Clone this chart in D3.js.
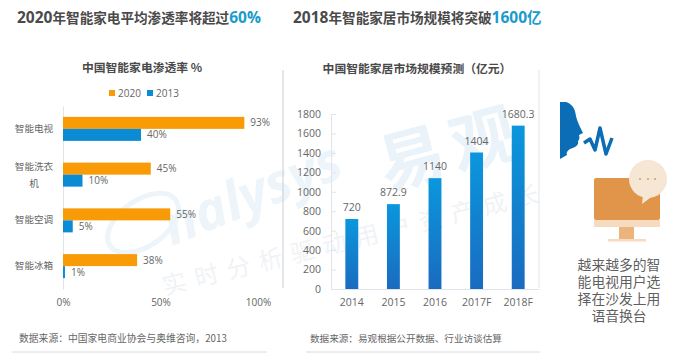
<!DOCTYPE html>
<html>
<head>
<meta charset="utf-8">
<script src="https://cdn.jsdelivr.net/npm/d3@7"></script>
<style>
html, body { margin: 0; padding: 0; background: #fff; }
svg { display: block; }
text { font-family: "Noto Sans CJK SC", "Noto Sans", sans-serif; }
.num { font-family: "Open Sans", "Noto Sans", sans-serif; }
.note { font-family: "Liberation Sans", "Noto Sans CJK SC", sans-serif; }
</style>
</head>
<body>
<div id="chart"></div>
<script>
////
// DATA
////
const appliances = ["智能电视", "智能洗衣机", "智能空调", "智能冰箱"];
const rate_2020 = [93, 45, 55, 38];
const rate_2013 = [40, 10, 5, 1];
const rate_ticks = [0, 50, 100];

const market_years = ["2014", "2015", "2016", "2017F", "2018F"];
const market_size = [720, 872.9, 1140, 1404, 1680.3];
const market_ticks = [0, 200, 400, 600, 800, 1000, 1200, 1400, 1600, 1800];

const orange = "#f99a07", blue = "#0b8bd4", highlight = "#1a9bc9";
const grey_text = "#666", dark_text = "#4a4a4a", axis_grey = "#dfe5ea";

const svg = d3.select("#chart").append("svg").attr("width", 679).attr("height", 356);

const defs = svg.append("defs");
const grad = defs.append("linearGradient").attr("id", "bar_grad")
    .attr("x1", 0).attr("y1", 0).attr("x2", 0).attr("y2", 1);
grad.append("stop").attr("offset", "0%").attr("stop-color", "#0a97dd");
grad.append("stop").attr("offset", "100%").attr("stop-color", "#1a6bbf");

////
// WATERMARK
////
const mark = svg.append("g");
mark.append("ellipse").attr("cx", 143).attr("cy", 223).attr("rx", 40).attr("ry", 23)
    .attr("transform", "rotate(-35 143 223)")
    .attr("fill", "none").attr("stroke", "#edf5fa").attr("stroke-width", 5);
mark.append("text").attr("transform", "translate(172,246) rotate(-22)")
    .attr("class", "num").attr("font-size", 54).attr("font-weight", 700)
    .attr("font-style", "italic").attr("fill", "#edf5fa").text("nalysys");
mark.append("text").attr("transform", "translate(386,190) rotate(-15)")
    .attr("font-size", 66).attr("font-weight", 700).attr("letter-spacing", 8).attr("fill", "#e9f3f9").text("易观");
mark.append("text").attr("transform", "translate(165,295) rotate(-14)")
    .attr("font-size", 24).attr("letter-spacing", 9).attr("fill", "#f0f3f6").text("实时分析驱动用户资产成长");

////
// HEADLINES
////
function headline(x, lead, middle) {
    const t = svg.append("text").attr("x", x).attr("y", 23)
        .attr("font-weight", 700).attr("fill", dark_text);
    t.append("tspan").attr("class", "num").attr("font-size", 15.5).text(lead);
    t.append("tspan").attr("font-size", 13.6).text(middle);
    return t;
}
const head_left = headline(17, "2020", "年智能家电平均渗透率将超过");
head_left.append("tspan").attr("class", "num").attr("font-size", 15.5).attr("fill", highlight).text("60%");
const head_right = headline(293, "2018", "年智能家居市场规模将突破");
head_right.append("tspan").attr("class", "num").attr("font-size", 15.5).attr("fill", highlight).text("1600");
head_right.append("tspan").attr("font-size", 14.5).attr("fill", highlight).text("亿");

svg.append("text").attr("x", 142).attr("y", 72).attr("text-anchor", "middle")
    .attr("font-size", 11.8).attr("font-weight", 700).attr("fill", dark_text).text("中国智能家电渗透率 %");
svg.append("text").attr("x", 417).attr("y", 73).attr("text-anchor", "middle")
    .attr("font-size", 11.8).attr("font-weight", 700).attr("fill", dark_text).text("中国智能家居市场规模预测（亿元）");

////
// LEFT CHART
////
const rate_x = d3.scaleLinear().domain([0, 100]).range([63, 258]);
const rate_y = d3.scaleBand().domain(appliances).range([106, 289]);
const rate_inner = d3.scaleBand().domain(["2020", "2013"])
    .range([rate_y.bandwidth() / 2 - 12, rate_y.bandwidth() / 2 + 12]);

// legend
const legend = svg.append("g");
[["2020", orange, 109], ["2013", blue, 147]].forEach(d => {
    legend.append("rect").attr("x", d[2]).attr("y", 90).attr("width", 6).attr("height", 6).attr("fill", d[1]);
    legend.append("text").attr("class", "num").attr("x", d[2] + 9).attr("y", 96.5)
        .attr("font-size", 10).attr("fill", grey_text).text(d[0]);
});

const rate_axis = svg.append("g").attr("transform", "translate(0,289)")
    .call(d3.axisBottom(rate_x).tickValues(rate_ticks).tickFormat(d => d + "%").tickSize(0).tickPadding(10));
rate_axis.select(".domain").remove();
rate_axis.selectAll("text").attr("class", "num").attr("font-size", 10).attr("fill", grey_text)
    .style("font-family", '"Open Sans", sans-serif');

const cat_axis = svg.append("g").attr("transform", "translate(63,0)")
    .call(d3.axisLeft(rate_y).tickSize(0).tickFormat(""));
cat_axis.select(".domain").attr("stroke", axis_grey);
cat_axis.selectAll(".tick").each(function (d) {
    // long names wrap after four characters, as in the original
    const lines = d.length > 4 ? [d.slice(0, 4), d.slice(4)] : [d];
    const label = d3.select(this).select("text").attr("x", -29).attr("text-anchor", "middle")
        .attr("font-size", 9.6).attr("fill", grey_text).attr("dy", null);
    lines.forEach((line, i) => {
        label.append("tspan").attr("x", -29)
            .attr("y", lines.length > 1 ? (i === 0 ? -5 : 12) : 3).text(line);
    });
});

const rate_rows = appliances.map((name, i) => ({ name, "2020": rate_2020[i], "2013": rate_2013[i] }));
[["2020", orange], ["2013", blue]].forEach(series => {
    const key = series[0];
    const row = svg.selectAll(".row_" + key).data(rate_rows).enter().append("g")
        .attr("class", "row_" + key)
        .attr("transform", d => `translate(0,${rate_y(d.name) + rate_inner(key)})`);
    row.append("rect").attr("x", rate_x(0)).attr("y", 0)
        .attr("width", d => rate_x(d[key]) - rate_x(0))
        .attr("height", rate_inner.bandwidth()).attr("fill", series[1]);
    row.append("text").attr("class", "num")
        .attr("x", d => rate_x(d[key]) + 6).attr("y", rate_inner.bandwidth() / 2 + 3.5)
        .attr("font-size", 10).attr("fill", grey_text).text(d => d[key] + "%");
});

////
// RIGHT CHART
////
const market_x = d3.scaleBand().domain(market_years).range([331, 539]).paddingInner(0.69).paddingOuter(0.345);
const market_y = d3.scaleLinear().domain([0, 1800]).range([289, 114]);

// panel edges
svg.append("line").attr("x1", 283).attr("x2", 283).attr("y1", 70).attr("y2", 288)
    .attr("stroke", "#c9ced3").attr("stroke-width", 1);
svg.append("line").attr("x1", 539).attr("x2", 539).attr("y1", 70).attr("y2", 288)
    .attr("stroke", "#e2e5e8").attr("stroke-width", 1);

const y_axis = svg.append("g").attr("transform", "translate(331,0)")
    .call(d3.axisLeft(market_y).tickValues(market_ticks).tickSize(-5).tickPadding(10).tickFormat(d3.format("d")));
y_axis.select(".domain").attr("stroke", axis_grey);
y_axis.selectAll(".tick line").attr("stroke", axis_grey);
y_axis.selectAll("text").attr("font-size", 10.5).attr("fill", grey_text)
    .style("font-family", '"Open Sans", sans-serif');

const x_axis = svg.append("g").attr("transform", "translate(0,289)")
    .call(d3.axisBottom(market_x).tickSize(0).tickPadding(10));
x_axis.select(".domain").attr("stroke", axis_grey);
x_axis.selectAll("text").attr("font-size", 10.5).attr("fill", grey_text)
    .style("font-family", '"Open Sans", sans-serif');

svg.selectAll(".market_bar").data(market_size).enter().append("rect")
    .attr("class", "market_bar")
    .attr("x", (d, i) => market_x(market_years[i]))
    .attr("y", d => market_y(d))
    .attr("width", market_x.bandwidth())
    .attr("height", d => market_y(0) - market_y(d))
    .attr("fill", "url(#bar_grad)");

svg.selectAll(".market_label").data(market_size).enter().append("text")
    .attr("class", "market_label num")
    .attr("x", (d, i) => market_x(market_years[i]) + market_x.bandwidth() / 2)
    .attr("y", d => market_y(d) - 8)
    .attr("text-anchor", "middle").attr("font-size", 10.5).attr("fill", grey_text).text(d => d);

////
// SOURCES
////
svg.append("text").attr("x", 19).attr("y", 342).attr("font-size", 9.8).attr("fill", grey_text)
    .text("数据来源：中国家电商业协会与奥维咨询，2013");
svg.append("text").attr("x", 310).attr("y", 342).attr("font-size", 9.6).attr("fill", grey_text)
    .text("数据来源：易观根据公开数据、行业访谈估算");
[[12, 267], [306, 540]].forEach(d => {
    svg.append("line").attr("x1", d[0]).attr("x2", d[1]).attr("y1", 352).attr("y2", 352)
        .attr("stroke", "#d9dcdf");
});

////
// ICONS
////
const icons = svg.append("g");
icons.append("path").attr("fill", "#0a6db5")
    .attr("d", "M560,102 L566,102 C572,104 575,108 576,116 C577,121 581,129 583,133 L579,135 C580,138 579,140 578,141 C579,145 576,147 570,149 C567,151 566,153 567,155 L560,159 Z");
icons.append("path").attr("fill", "none").attr("stroke", "#0a6db5").attr("stroke-width", 3.5).attr("stroke-linejoin", "round")
    .attr("d", "M584,143 L590,139 L595,150 L600,128 L606,154 L612,138");

icons.append("rect").attr("x", 594).attr("y", 178).attr("width", 66).attr("height", 42).attr("rx", 2).attr("fill", "#e0954a");
icons.append("rect").attr("x", 594).attr("y", 220).attr("width", 66).attr("height", 7).attr("fill", "#f5dcc0");
icons.append("rect").attr("x", 619).attr("y", 227).attr("width", 15).attr("height", 12).attr("fill", "#ecb47c");
icons.append("rect").attr("x", 608).attr("y", 239).attr("width", 38).attr("height", 2.5).attr("fill", "#f5dcc0");
icons.append("circle").attr("cx", 648).attr("cy", 179).attr("r", 19).attr("fill", "#f6e6d4");
icons.append("path").attr("fill", "#f6e6d4").attr("d", "M643,195 L642,204 L654,195 Z");
[640, 648, 655].forEach(x => icons.append("circle").attr("cx", x).attr("cy", 179).attr("r", 1).attr("fill", "#c9a27a"));

const note = ["越来越多的智", "能电视用户选", "择在沙发上用", "语音换台"];
const note_text = svg.append("text").attr("class", "note").attr("text-anchor", "middle")
    .attr("font-size", 13.8).attr("fill", "#5f5f5f");
note.forEach((line, i) => {
    note_text.append("tspan").attr("x", 619).attr("y", 270 + i * 17).text(line);
});
</script>
</body>
</html>
